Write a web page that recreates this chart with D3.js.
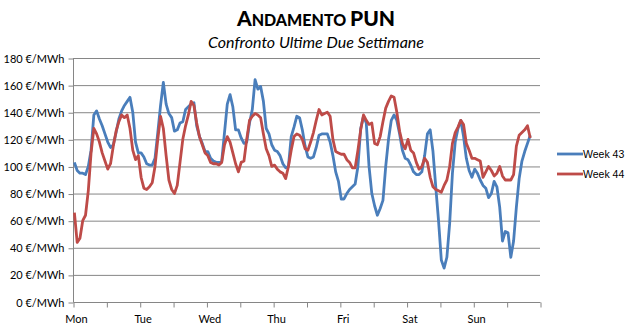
<!DOCTYPE html>
<html><head><meta charset="utf-8">
<script src="https://cdn.jsdelivr.net/npm/d3@7"></script>
<style>html,body{margin:0;padding:0;background:#fff;}</style>
</head><body>
<div id="chart"></div>
<script>
const days = ["Mon","Tue","Wed","Thu","Fri","Sat","Sun"];
const yTicks = [0,20,40,60,80,100,120,140,160,180];
const seriesNames = ["Week 43","Week 44"];
const week43 = [
103,97,95,95,94,100,112,138,141,135,130,124,118,114,116,125,135,141,145,148,151,140,118,110,
110,107,102,101,101,106,125,145,162,146,139,136,126,127,132,133,142,144,146,147,130,122,117,111,
111,106,104,103,103,104,125,146,153,144,127,127,121,117,118,132,142,164,157,159,148,128,124,116,
112,111,108,102,99,100,122,129,137,136,127,115,107,106,107,114,123,124,124,124,118,108,96,89,
76,76,80,83,85,87,100,128,137,132,100,80,71,64,69,75,100,120,134,138,134,124,112,106,
105,101,96,94,94,96,108,124,127,111,85,60,31,25,33,58,95,118,128,134,122,106,97,92,
98,95,90,86,84,77,80,89,85,70,45,52,51,33,45,70,91,104,111,117,123
];
const week44 = [
66,44,47,60,64,82,110,128,124,118,110,104,98,102,115,126,133,138,136,138,128,112,105,108,
92,84,83,85,88,100,120,137,128,108,90,83,80,86,103,120,130,138,148,145,132,122,116,110,
108,103,102,102,101,103,116,122,118,110,102,96,103,104,120,134,137,139,138,136,124,113,108,100,
101,98,96,95,91,100,112,122,124,123,120,113,112,118,125,134,142,138,139,140,137,120,111,110,
109,109,105,103,99,99,112,127,138,134,131,132,117,116,122,133,143,148,152,151,140,126,117,113,
120,112,110,103,98,100,106,103,92,85,83,82,81,86,90,100,117,125,129,134,131,117,112,106,
106,105,104,92,96,100,97,93,95,100,93,90,90,90,94,115,123,125,127,130,121
];
const colors = ["#4a7ebb","#be4b48"];

const W = 631, H = 331;
const svg = d3.select("#chart").append("svg").attr("width", W).attr("height", H)
  .style("background","#fff");

const x = d3.scaleLinear().domain([0,168]).range([73,540]);
const y = d3.scaleLinear().domain([0,180]).range([302,58]);

// title
const t = svg.append("text").attr("x",316).attr("y",26).attr("text-anchor","middle")
  .style("font-family","Lato, 'Open Sans', sans-serif").style("font-weight","900").attr("fill","#000");
t.append("tspan").attr("font-size",21).text("A");
t.append("tspan").attr("font-size",16).text("NDAMENTO ");
t.append("tspan").attr("font-size",21).text("PUN");
svg.append("text").attr("x",316).attr("y",48).attr("text-anchor","middle")
  .style("font-family","Lato, 'Open Sans', sans-serif").style("font-style","italic")
  .attr("font-size",16).text("Confronto Ultime Due Settimane");

// gridlines
svg.append("g").selectAll("line").data(yTicks.filter(d=>d>0)).join("line")
  .attr("x1",73).attr("x2",540).attr("y1",d=>y(d)+0.5).attr("y2",d=>y(d)+0.5)
  .attr("stroke","#868686").attr("stroke-width",1);

// y axis
const yAxis = d3.axisLeft(y).tickValues(yTicks).tickSize(5).tickPadding(4)
  .tickFormat(d => d + " €/MWh");
const gy = svg.append("g").attr("transform","translate(73.5,0.5)").call(yAxis);
gy.select(".domain").attr("stroke","#868686").attr("d","M0,"+y(180)+"V"+y(0));
gy.selectAll(".tick line").attr("stroke","#868686");
gy.selectAll("text").style("font-family","Lato, sans-serif").attr("font-size",11).attr("fill","#000");

// x axis
const xAxis = d3.axisBottom(x).tickValues(d3.range(0,169,12)).tickSize(5).tickFormat("");
const gx = svg.append("g").attr("transform","translate(0.5,302.5)").call(xAxis);
gx.select(".domain").attr("stroke","#868686").attr("d","M"+x(0)+",0H"+x(168));
gx.selectAll(".tick line").attr("stroke","#868686");
svg.append("g").selectAll("text").data(days).join("text")
  .attr("x",(d,i)=>x(i*24+0.5)+2).attr("y",323).attr("text-anchor","middle")
  .style("font-family","Lato, sans-serif").attr("font-size",11).text(d=>d);

// lines
const line = d3.line().x((d,i)=>x(i+0.5)).y(d=>y(d));
[week43, week44].forEach((s,k)=>{
  svg.append("path").datum(s).attr("d",line).attr("fill","none")
    .attr("stroke",colors[k]).attr("stroke-width",2.8).attr("stroke-linejoin","round");
});

// legend
const lg = svg.append("g");
seriesNames.forEach((n,k)=>{
  const yy = 154 + k*20;
  lg.append("line").attr("x1",557).attr("x2",583).attr("y1",yy).attr("y2",yy)
    .attr("stroke",colors[k]).attr("stroke-width",2.8);
  lg.append("text").attr("x",583).attr("y",yy+4).style("font-family","'Liberation Sans', Arial, sans-serif")
    .attr("font-size",10.5).text(n);
});
</script>
</body></html>
